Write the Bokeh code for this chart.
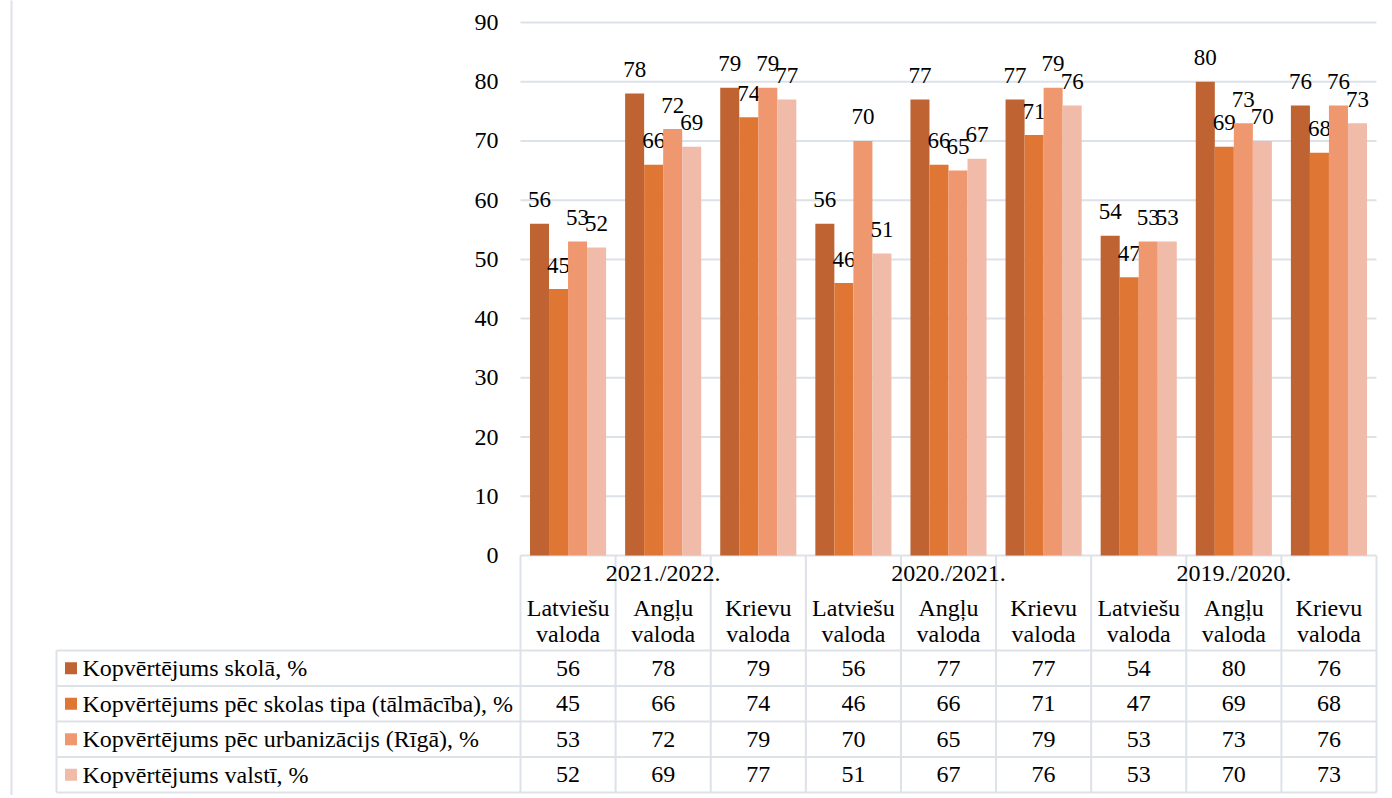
from bokeh.plotting import figure
from bokeh.models import Range1d, FixedTicker, LinearAxis
from bokeh.embed import file_html
from bokeh.resources import INLINE
from bokeh.core.properties import value

# ---------------- data ----------------
years = ["2021./2022.", "2020./2021.", "2019./2020."]
subjects = ["Latviešu valoda", "Angļu valoda", "Krievu valoda"]
series_names = [
    "Kopvērtējums skolā, %",
    "Kopvērtējums pēc skolas tipa (tālmācība), %",
    "Kopvērtējums pēc urbanizācijs (Rīgā), %",
    "Kopvērtējums valstī, %",
]
skola = [56, 78, 79, 56, 77, 77, 54, 80, 76]
skolas_tips = [45, 66, 74, 46, 66, 71, 47, 69, 68]
riga = [53, 72, 79, 70, 65, 79, 53, 73, 76]
valsts = [52, 69, 77, 51, 67, 76, 53, 70, 73]
y_ticks = [0, 10, 20, 30, 40, 50, 60, 70, 80, 90]

series_values = [skola, skolas_tips, riga, valsts]
colors = ["#bf6332", "#e07633", "#ef9870", "#f0bba8"]

# ---------------- layout constants (pixels) ----------------
W = 1384
H = 795
FRAME_L = 520            # px where the value area starts
FRAME_R = 1376
ZERO_Y = 555             # px of value 0
NCOL = len(years) * len(subjects)
COL = (FRAME_R - FRAME_L) / NCOL
PX_PER = 533 / 90        # px per value unit
FONT = "Liberation Serif"
GRID = "#dde1e8"
BW = 0.2


def tx(px):
    return (px - FRAME_L) / COL


def ty(px_below_zero):
    return -px_below_zero / PX_PER


p = figure(width=W, height=H, x_range=Range1d(tx(0), tx(W)),
           y_range=Range1d(ty(H - ZERO_Y), ZERO_Y / PX_PER),
           output_backend="svg", toolbar_location=None, min_border=0,
           x_axis_location=None, y_axis_location=None)
p.outline_line_color = None
p.xgrid.visible = False
p.ygrid.visible = False

yaxis = LinearAxis(fixed_location=0, ticker=FixedTicker(ticks=y_ticks))
yaxis.axis_line_color = None
yaxis.major_tick_line_color = None
yaxis.minor_tick_line_color = None
yaxis.major_tick_out = 0
yaxis.major_tick_in = 0
yaxis.major_label_standoff = 22
yaxis.major_label_text_font = FONT
yaxis.major_label_text_font_size = "24px"
yaxis.major_label_text_color = "#000000"
p.add_layout(yaxis, "left")

# gridlines (value area only)
p.segment(x0=[0] * len(y_ticks), x1=[NCOL] * len(y_ticks), y0=y_ticks, y1=y_ticks,
          line_color=GRID, line_width=2)
# outer left border of the chart area
p.segment(x0=[tx(11)], x1=[tx(11)], y0=[ty(H)], y1=[100], line_color=GRID, line_width=2)

# bars + data labels
for s, (vals, col) in enumerate(zip(series_values, colors)):
    xs = [i + 0.5 + (s - 1.5) * BW for i in range(NCOL)]
    p.vbar(x=xs, top=vals, bottom=0, width=BW, fill_color=col, line_color=None)
    p.text(x=xs, y=vals, text=[str(v) for v in vals], text_align="center",
           text_baseline="middle", y_offset=-24, text_font=value(FONT),
           text_font_size="23px", text_color="#000000")

# ---------------- data table ----------------
HEAD = 95
ROW_H = 35.5
rb = [HEAD + k * ROW_H for k in range(len(series_names) + 1)]
XLEG = tx(56)

p.segment(x0=[XLEG] * len(rb), x1=[NCOL] * len(rb), y0=[ty(v) for v in rb],
          y1=[ty(v) for v in rb], line_color=GRID, line_width=2)
p.segment(x0=list(range(NCOL + 1)), x1=list(range(NCOL + 1)), y0=[0] * (NCOL + 1),
          y1=[ty(rb[-1])] * (NCOL + 1), line_color=GRID, line_width=2)
p.segment(x0=[XLEG], x1=[XLEG], y0=[ty(HEAD)], y1=[ty(rb[-1])], line_color=GRID, line_width=2)

ng = len(subjects)
p.text(x=[g * ng + ng / 2 for g in range(len(years))], y=[ty(17)] * len(years), text=years,
       text_align="center", text_baseline="middle", text_font=value(FONT),
       text_font_size="24px", text_color="#000000")
cat_first = [subjects[i % ng].split(" ")[0] for i in range(NCOL)]
cat_second = [subjects[i % ng].split(" ")[1] for i in range(NCOL)]
p.text(x=[i + 0.5 for i in range(NCOL)], y=[ty(52)] * NCOL, text=cat_first,
       text_align="center", text_baseline="middle", text_font=value(FONT),
       text_font_size="24px", text_color="#000000")
p.text(x=[i + 0.5 for i in range(NCOL)], y=[ty(78)] * NCOL, text=cat_second,
       text_align="center", text_baseline="middle", text_font=value(FONT),
       text_font_size="24px", text_color="#000000")

for r, (name, vals, col) in enumerate(zip(series_names, series_values, colors)):
    yc = ty((rb[r] + rb[r + 1]) / 2)
    p.text(x=[i + 0.5 for i in range(NCOL)], y=[yc] * NCOL, text=[str(v) for v in vals],
           text_align="center", text_baseline="middle", text_font=value(FONT),
           text_font_size="24px", text_color="#000000")
    p.rect(x=[tx(70.5)], y=[yc], width=12, height=12,
           width_units="screen", height_units="screen", fill_color=col, line_color=None)
    p.text(x=[tx(82)], y=[yc], text=[name], text_align="left",
           text_baseline="middle", text_font=value(FONT), text_font_size="24px",
           text_color="#000000")

open("out.html", "w").write(file_html(p, INLINE))
